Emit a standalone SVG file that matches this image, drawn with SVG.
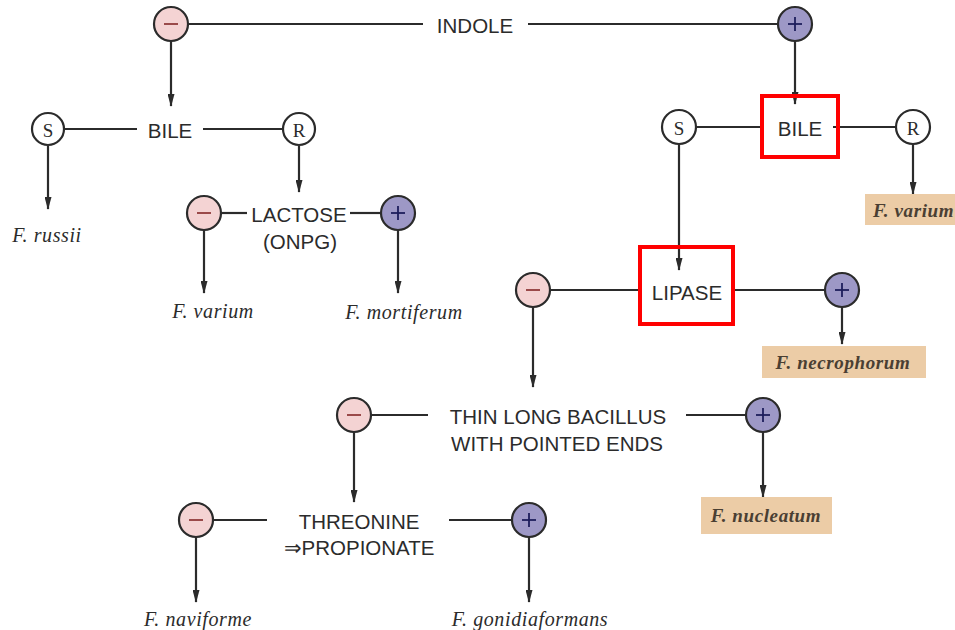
<svg xmlns="http://www.w3.org/2000/svg" width="955" height="630" viewBox="0 0 955 630">
  <style>
    .ln { stroke: #2b2b2b; stroke-width: 2.2; fill: none; }
    .arr { stroke: #2b2b2b; stroke-width: 2.2; fill: none; marker-end: url(#ah); }
    .neg { fill: #f4d3d3; stroke: #2b2b2b; stroke-width: 2.2; }
    .pos { fill: #9d98c6; stroke: #2b2b2b; stroke-width: 2.2; }
    .sr { fill: #ffffff; stroke: #2b2b2b; stroke-width: 2.2; }
    .negs { stroke: #9a4a4a; stroke-width: 2; }
    .poss { stroke: #1d1d5c; stroke-width: 1.8; }
    .srt { font-family: "Liberation Serif", "Times New Roman", serif; font-size: 19px; fill: #2b2b2b; text-anchor: middle; dominant-baseline: central; }
    .lbl { font-family: "Liberation Sans", Arial, Helvetica, sans-serif; font-size: 20.5px; fill: #2b2b2b; text-anchor: middle; dominant-baseline: central; }
    .sp { font-family: "Liberation Serif", "Times New Roman", serif; font-style: italic; font-size: 20px; letter-spacing: 0.6px; fill: #2b2b2b; text-anchor: middle; dominant-baseline: central; }
    .spb { font-family: "Liberation Serif", "Times New Roman", serif; font-style: italic; font-weight: bold; font-size: 19px; letter-spacing: 0.6px; fill: #4a3f33; text-anchor: middle; dominant-baseline: central; }
    .tan { fill: #eccca6; }
    .hl { fill: none; stroke: #ff0000; stroke-width: 4; }
  </style>
  <defs>
    <!-- slender arrowhead used on every downward connector -->
    <marker id="ah" markerWidth="13" markerHeight="7" refX="12" refY="3.5" orient="auto" markerUnits="userSpaceOnUse" viewBox="0 0 13 7">
      <path d="M0,0 L13,3.5 L0,7 Z" fill="#2b2b2b"/>
    </marker>
  </defs>

  <rect width="955" height="630" fill="#ffffff"/>

  <!-- connectors -->
  <g id="connectors">
    <!-- indole -->
    <line class="ln" x1="188" y1="24" x2="423" y2="24"/>
    <line class="ln" x1="528" y1="24" x2="778" y2="24"/>
    <line class="arr" x1="171" y1="41" x2="171" y2="106"/>
    <line class="arr" x1="795" y1="40" x2="795" y2="104"/>
    <!-- bile (left) -->
    <line class="ln" x1="65" y1="129" x2="137" y2="129"/>
    <line class="ln" x1="203" y1="129" x2="283" y2="129"/>
    <line class="arr" x1="48" y1="146" x2="48" y2="209"/>
    <line class="arr" x1="299" y1="146" x2="299" y2="192"/>
    <!-- lactose -->
    <line class="ln" x1="221" y1="213" x2="247" y2="213"/>
    <line class="ln" x1="350" y1="213" x2="382" y2="213"/>
    <line class="arr" x1="204" y1="230" x2="204" y2="293"/>
    <line class="arr" x1="398" y1="230" x2="398" y2="293"/>
    <!-- bile (right) -->
    <line class="ln" x1="696" y1="127" x2="760" y2="127"/>
    <line class="ln" x1="833" y1="127" x2="896" y2="127"/>
    <line class="arr" x1="913" y1="144" x2="913" y2="194"/>
    <line class="arr" x1="679" y1="144" x2="679" y2="270"/>
    <!-- lipase -->
    <line class="ln" x1="550" y1="290" x2="638" y2="290"/>
    <line class="ln" x1="735" y1="290" x2="825" y2="290"/>
    <line class="arr" x1="842" y1="307" x2="842" y2="344"/>
    <line class="arr" x1="533" y1="307" x2="533" y2="387"/>
    <!-- thin long bacillus -->
    <line class="ln" x1="371" y1="415" x2="428" y2="415"/>
    <line class="ln" x1="686" y1="415" x2="746" y2="415"/>
    <line class="arr" x1="354" y1="432" x2="354" y2="502"/>
    <line class="arr" x1="763" y1="432" x2="763" y2="497"/>
    <!-- threonine -->
    <line class="ln" x1="213" y1="520" x2="267" y2="520"/>
    <line class="ln" x1="449" y1="520" x2="513" y2="520"/>
    <line class="arr" x1="196" y1="537" x2="196" y2="602"/>
    <line class="arr" x1="529" y1="537" x2="529" y2="602"/>
  </g>

  <!-- test nodes -->
  <g id="indole"><text class="lbl" x="475" y="25">INDOLE</text></g>
  <g id="indole-neg"><circle class="neg" cx="171" cy="24" r="17"/><line class="negs" x1="164" y1="24" x2="178" y2="24"/></g>
  <g id="indole-pos"><circle class="pos" cx="795" cy="24" r="17"/><line class="poss" x1="788" y1="24" x2="802" y2="24"/><line class="poss" x1="795" y1="17" x2="795" y2="31"/></g>

  <g id="bile-left"><text class="lbl" x="170" y="130">BILE</text></g>
  <g id="bile-left-s"><circle class="sr" cx="48" cy="129" r="16"/><text class="srt" x="48" y="130">S</text></g>
  <g id="bile-left-r"><circle class="sr" cx="299" cy="129" r="16"/><text class="srt" x="299" y="130">R</text></g>

  <g id="lactose"><text class="lbl" x="299" y="214">LACTOSE</text><text class="lbl" x="300" y="241">(ONPG)</text></g>
  <g id="lactose-neg"><circle class="neg" cx="204" cy="213" r="17"/><line class="negs" x1="197" y1="213" x2="211" y2="213"/></g>
  <g id="lactose-pos"><circle class="pos" cx="398" cy="213" r="17"/><line class="poss" x1="391" y1="213" x2="405" y2="213"/><line class="poss" x1="398" y1="206" x2="398" y2="220"/></g>

  <g id="bile-right"><rect class="hl" x="762" y="96" width="76" height="61"/><text class="lbl" x="800" y="128">BILE</text></g>
  <g id="bile-right-s"><circle class="sr" cx="679" cy="127" r="17"/><text class="srt" x="679" y="128">S</text></g>
  <g id="bile-right-r"><circle class="sr" cx="913" cy="127" r="17"/><text class="srt" x="913" y="128">R</text></g>

  <g id="lipase"><rect class="hl" x="640" y="247" width="93" height="77"/><text class="lbl" x="687" y="292">LIPASE</text></g>
  <g id="lipase-neg"><circle class="neg" cx="533" cy="290" r="17"/><line class="negs" x1="526" y1="290" x2="540" y2="290"/></g>
  <g id="lipase-pos"><circle class="pos" cx="842" cy="290" r="17"/><line class="poss" x1="835" y1="290" x2="849" y2="290"/><line class="poss" x1="842" y1="283" x2="842" y2="297"/></g>

  <g id="bacillus"><text class="lbl" x="558" y="416">THIN LONG BACILLUS</text><text class="lbl" x="557" y="443">WITH POINTED ENDS</text></g>
  <g id="bacillus-neg"><circle class="neg" cx="354" cy="415" r="17"/><line class="negs" x1="347" y1="415" x2="361" y2="415"/></g>
  <g id="bacillus-pos"><circle class="pos" cx="763" cy="415" r="17"/><line class="poss" x1="756" y1="415" x2="770" y2="415"/><line class="poss" x1="763" y1="408" x2="763" y2="422"/></g>

  <g id="threonine"><text class="lbl" x="359" y="521">THREONINE</text><text class="lbl" x="359" y="547">⇒PROPIONATE</text></g>
  <g id="threonine-neg"><circle class="neg" cx="196" cy="520" r="17"/><line class="negs" x1="189" y1="520" x2="203" y2="520"/></g>
  <g id="threonine-pos"><circle class="pos" cx="529" cy="520" r="17"/><line class="poss" x1="522" y1="520" x2="536" y2="520"/><line class="poss" x1="529" y1="513" x2="529" y2="527"/></g>

  <!-- species -->
  <g id="f-russii"><text class="sp" x="47" y="235">F. russii</text></g>
  <g id="f-varium-left"><text class="sp" x="213" y="311">F. varium</text></g>
  <g id="f-mortiferum"><text class="sp" x="404" y="312">F. mortiferum</text></g>
  <g id="f-varium-right"><rect class="tan" x="865" y="194" width="95" height="31"/><text class="spb" x="873" y="210" style="text-anchor:start">F. varium</text></g>
  <g id="f-necrophorum"><rect class="tan" x="762" y="346" width="164" height="32"/><text class="spb" x="843" y="362">F. necrophorum</text></g>
  <g id="f-nucleatum"><rect class="tan" x="701" y="497" width="131" height="37"/><text class="spb" x="766" y="515">F. nucleatum</text></g>
  <g id="f-naviforme"><text class="sp" x="198" y="619">F. naviforme</text></g>
  <g id="f-gonidiaformans"><text class="sp" x="530" y="619">F. gonidiaformans</text></g>
</svg>
